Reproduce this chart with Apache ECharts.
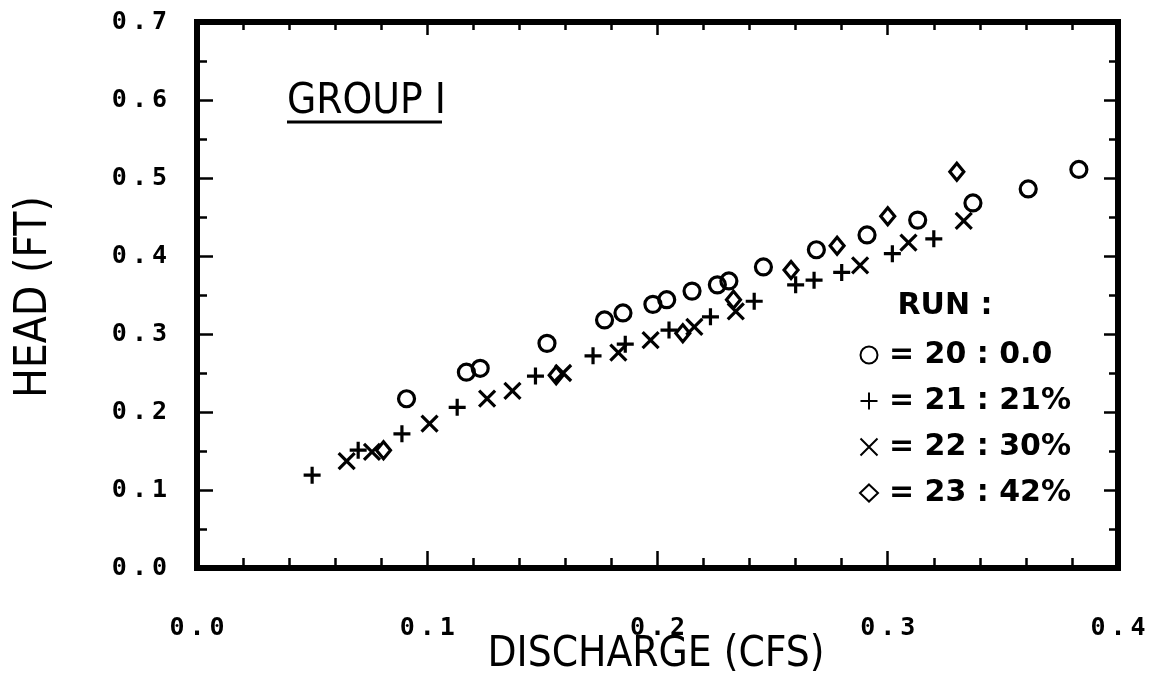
<!DOCTYPE html>
<html>
<head>
<meta charset="utf-8">
<script src="https://cdn.jsdelivr.net/npm/echarts@6/dist/echarts.min.js"></script>
<style>
html,body{margin:0;padding:0;background:#fff;}
#chart{width:1173px;height:674px;}
</style>
</head>
<body>
<div id="chart"></div>
<script>
// Data: [discharge (cfs), head (ft)]
const run20 = [[0.091,0.217],[0.117,0.251],[0.123,0.256],[0.152,0.288],[0.177,0.318],[0.185,0.327],[0.198,0.338],[0.204,0.344],[0.215,0.355],[0.226,0.363],[0.231,0.368],[0.246,0.386],[0.269,0.408],[0.291,0.427],[0.313,0.446],[0.337,0.468],[0.361,0.486],[0.383,0.511]];
const run21 = [[0.050,0.119],[0.070,0.151],[0.089,0.172],[0.113,0.206],[0.147,0.246],[0.172,0.272],[0.186,0.287],[0.205,0.305],[0.223,0.322],[0.242,0.342],[0.260,0.363],[0.268,0.369],[0.280,0.379],[0.302,0.403],[0.320,0.422]];
const run22 = [[0.065,0.137],[0.076,0.149],[0.101,0.185],[0.126,0.217],[0.137,0.227],[0.159,0.250],[0.183,0.276],[0.197,0.292],[0.216,0.309],[0.234,0.329],[0.288,0.388],[0.309,0.417],[0.333,0.445]];
const run23 = [[0.081,0.151],[0.156,0.247],[0.211,0.301],[0.233,0.344],[0.258,0.382],[0.278,0.413],[0.300,0.451],[0.330,0.508]];
const seriesNames = ['= 20 : 0.0', '= 21 : 21%', '= 22 : 30%', '= 23 : 42%'];
const xTicks = {min: 0, max: 0.4, interval: 0.1};
const yTicks = {min: 0, max: 0.7, interval: 0.1};

const titleFont = '"Liberation Sans Narrow", "DejaVu Sans Condensed", "Liberation Sans", sans-serif';
const tickFont = '"DejaVu Sans Mono", monospace';
const plusPath = 'path://M0,5L10,5M5,0L5,10';
const crossPath = 'path://M0,0L10,10M10,0L0,10';

const chart = echarts.init(document.getElementById('chart'), null, {renderer: 'canvas'});

function tickLabel(v) {
  const s = v.toFixed(1);
  return '{d|' + s.charAt(0) + '}{p|.}{d|' + s.charAt(2) + '}';
}
const labelRich = {
  d: {fontFamily: tickFont, fontWeight: 'bold', fontSize: 25, color: '#000'},
  p: {fontFamily: tickFont, fontWeight: 'bold', fontSize: 25, color: '#000', padding: [0, 5, 0, 5]}
};

function axis(pos, showLabel, majorLen, minorLen, minorSplit, range, margin) {
  return {
    type: 'value', position: pos, min: range.min, max: range.max, interval: range.interval,
    axisLine: {show: true, onZero: false, lineStyle: {color: '#000', width: 6, cap: 'square'}},
    splitLine: {show: false},
    axisTick: {show: true, inside: true, length: majorLen, lineStyle: {color: '#000', width: 2.5}},
    minorTick: {show: true, splitNumber: minorSplit, length: minorLen, lineStyle: {color: '#000', width: 2.5}},
    axisLabel: showLabel ? {margin: margin, formatter: tickLabel, rich: labelRich} : {show: false}
  };
}

function mkSeries(name, data, symbol, size) {
  return {
    name: name, type: 'scatter', data: data, symbol: symbol, symbolSize: size,
    xAxisIndex: 0, yAxisIndex: 0,
    itemStyle: {color: 'rgba(0,0,0,0)', borderColor: '#000', borderWidth: 3.2, opacity: 1},
    emphasis: {disabled: true}
  };
}

chart.setOption({
  animation: false,
  backgroundColor: '#fff',
  grid: {left: 197, right: 55, top: 22, bottom: 106, show: false},
  xAxis: [
    axis('bottom', true, 17, 10, 5, xTicks, 48),
    axis('top', false, 13, 8, 5, xTicks, 0)
  ],
  yAxis: [
    axis('left', true, 16, 10, 2, yTicks, 30),
    axis('right', false, 14, 9, 2, yTicks, 0)
  ],
  legend: {
    orient: 'vertical', left: 859, top: 340, padding: 0, itemGap: 16,
    itemWidth: 18, itemHeight: 17,
    selectedMode: false,
    textStyle: {color: '#000', fontFamily: '"DejaVu Sans", sans-serif', fontWeight: 'bold', fontSize: 30, lineHeight: 30, padding: [0, 0, 0, 6]},
    data: seriesNames
  },
  graphic: [
    {type: 'text', left: 287, top: 81, style: {text: 'GROUP I', fill: '#000', font: '42px ' + titleFont}},
    {type: 'line', shape: {x1: 287, y1: 122, x2: 442, y2: 122}, style: {stroke: '#000', lineWidth: 3}},
    {type: 'text', x: 945, y: 306, style: {text: 'RUN :', fill: '#000', font: 'bold 30px "DejaVu Sans", sans-serif', align: 'center', verticalAlign: 'middle'}},
    {type: 'text', x: 35, y: 297, rotation: Math.PI / 2, style: {text: 'HEAD (FT)', fill: '#000', font: '44px ' + titleFont, align: 'center', verticalAlign: 'middle'}},
    {type: 'text', x: 656, y: 655, style: {text: 'DISCHARGE (CFS)', fill: '#000', font: '42px ' + titleFont, align: 'center', verticalAlign: 'middle'}}
  ],
  series: [
    mkSeries(seriesNames[0], run20, 'circle', 16),
    mkSeries(seriesNames[1], run21, plusPath, 17),
    mkSeries(seriesNames[2], run22, crossPath, 16),
    mkSeries(seriesNames[3], run23, 'diamond', [14, 17])
  ]
});
</script>
</body>
</html>
